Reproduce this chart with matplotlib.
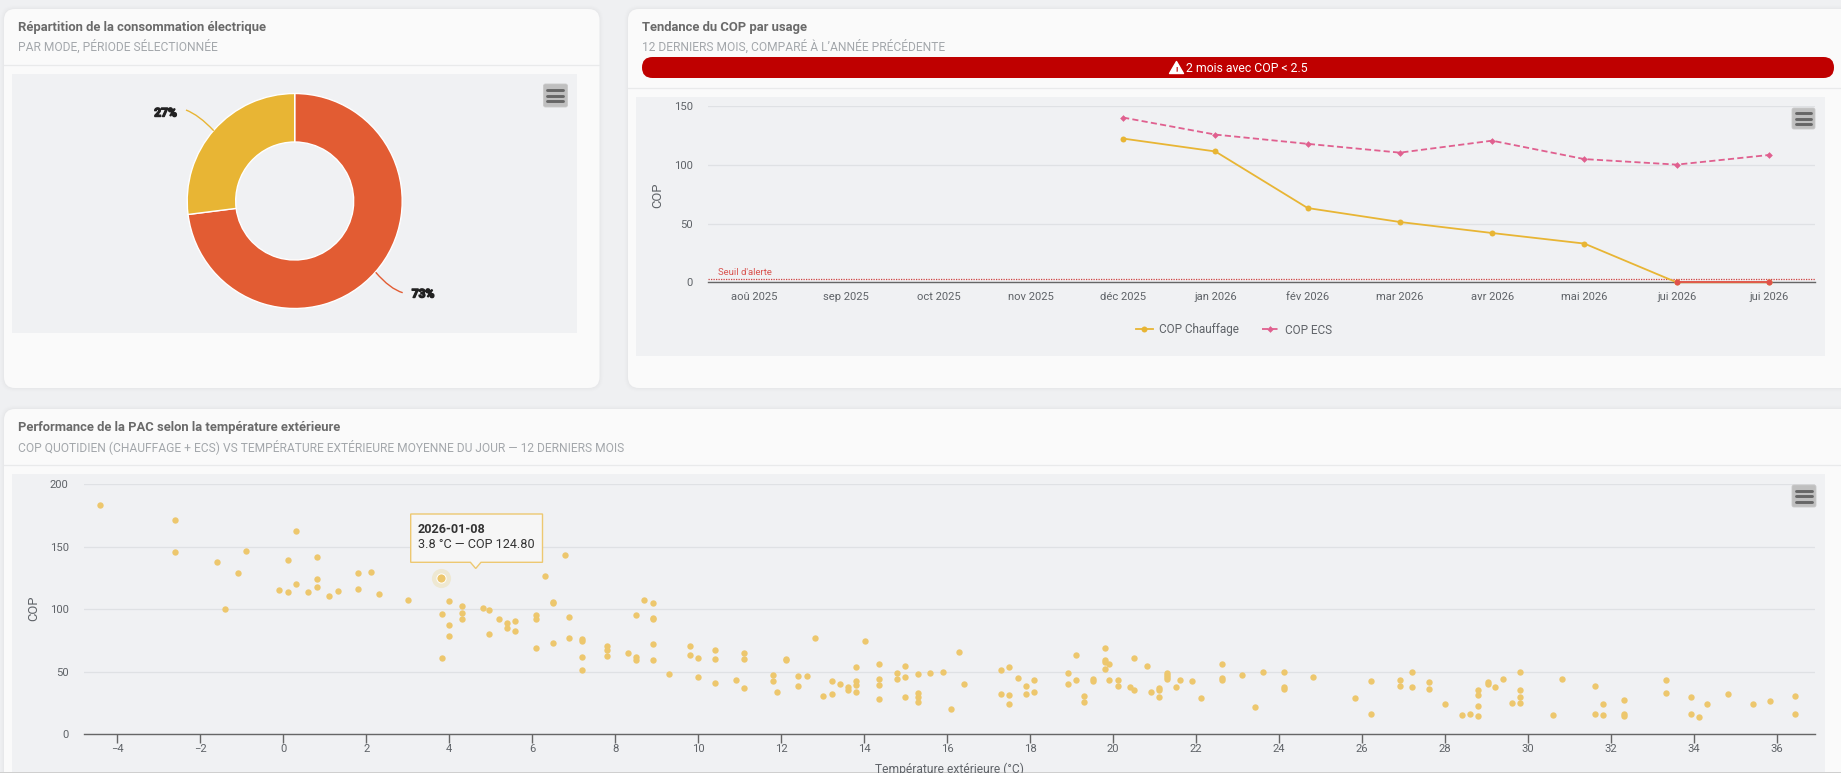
import numpy as np
import matplotlib
matplotlib.use("Agg")
import matplotlib.pyplot as plt
from matplotlib.patches import FancyBboxPatch, Rectangle, Polygon, PathPatch
from matplotlib.path import Path
import matplotlib.patheffects as pe

plt.rcParams['font.family'] = ['Roboto', 'DejaVu Sans']

# ---- data ----
mode_values = [73, 27]
mode_colors = ['#E25C33', '#E8B534']

months = ['aoû 2025', 'sep 2025', 'oct 2025', 'nov 2025', 'déc 2025', 'jan 2026',
          'fév 2026', 'mar 2026', 'avr 2026', 'mai 2026', 'jui 2026', 'jui 2026']
cop_chauffage = [None, None, None, None, 122.5, 111.5, 63.3, 51.4, 42.0, 33.0, 0.0, 0.0]
cop_ecs = [None, None, None, None, 140.4, 125.9, 118.0, 110.5, 120.7, 105.0, 100.3, 108.5]
seuil = 2.5

highlight_t = 3.8
highlight_cop = 124.8

temp_a = [-4.42,-2.61,-2.61,-1.6,-0.9,-1.09,-1.41,0.3,0.11,0.81,-0.1,0.11,0.3,0.59,0.81,0.81,1.1,1.32,1.8,1.8,2.11,2.3,3.0,
          4.0,3.82,4.0,4.0,3.82,4.3,4.3,4.3,4.81,4.97,5.2,5.39,5.39,5.58,5.58,4.97,6.09,6.09,6.09,6.31,6.5,6.5,6.79,6.88,6.5,
          6.88,7.2,7.2,7.2,7.2,7.8,7.8,7.8,8.31,8.5,8.5,8.5,8.69,8.91,8.91,8.91,8.91,8.91,9.29,9.8,9.8,9.99,9.99,10.4,10.4,10.4,
          10.91,11.1,11.1,11.1,11.8,11.8,11.9,12.11,12.11,12.4,12.4,12.62,12.81,13.0,13.22,13.22,13.41,13.61,13.61,13.8,13.8,13.8,13.8,
          14.02,14.35,14.35,14.35,14.35]
cop_a = [183.6,171.6,146,138,146.8,129,100.3,162.8,139.6,142,115.6,114,120.4,114,124.4,118,110.8,114.8,129,116.4,130,112.4,107.6,
         106.8,96.3,87.5,78.7,61,102.7,97,92.3,101,99.5,92.3,89,85,90.7,82.7,80.3,95.5,92.3,69,126.4,106,105,143.5,93.9,73,
         77,76.3,74.7,61.9,51.5,70.7,67.5,62.7,65,95.5,62,59.5,107.5,105,93,92.3,72.3,59.5,48.3,70.7,63.5,61,45.9,67.5,60.3,41,
         43.5,65,60.3,37,47.5,42.7,33.9,60.5,59.5,46.7,38.7,46.7,77,30.7,42.7,32.3,40.3,37.6,35.5,53.9,42.7,39.5,33.9,
         74.7,56.3,44.3,39.5,28.3]
temp_b = [14.79,14.79,14.98,14.98,14.98,15.29,15.29,15.29,15.29,15.58,15.9,16.09,16.28,16.4,17.29,17.49,17.29,17.49,17.49,17.7,17.9,17.9,
          18.09,18.09,18.91,18.91,19.1,19.1,19.29,19.29,19.51,19.51,19.8,19.8,19.8,19.9,19.8,19.9,20.11,20.11,20.4,20.5,20.5,20.81,20.91,
          21.1,21.1,21.1,21.29,21.29,21.29,21.29,21.51,21.61,21.9,22.11,22.61,22.61,22.61,23.1,23.41,23.61,24.11,24.11,24.11,24.81,25.82]
cop_b = [48.9,44.1,54.5,45.7,29.7,48.1,33.2,29.7,25.7,48.9,49.7,20,65.8,40.1,51.3,54,32.1,31.3,24.1,44.9,38.5,32.1,
         43.3,33.7,48.9,40.1,63.4,43.3,30.5,25.7,44.1,42.5,69,59.4,57.5,56.1,52.1,43.3,43.3,38.5,37.7,61,35.3,54.5,33.7,
         36.6,35,29.7,48.9,47,45.5,43.9,37.7,43.3,42.5,28.9,56.1,44.9,43.3,47.3,21.7,49.7,49.5,37.7,36.1,45.7,28.9]
temp_c = [26.2,26.2,26.9,26.9,27.21,27.21,27.6,27.6,28.0,28.41,28.6,28.8,28.8,28.8,28.8,29.02,29.02,29.21,29.4,29.62,29.81,29.81,29.81,29.81,
          30.6,30.82,31.61,31.61,31.81,31.81,32.31,32.31,32.31,33.32,33.32,33.92,33.92,34.12,34.31,34.81,35.41,35.82,36.42,36.42]
cop_c = [42.5,16,43.3,38.5,49.7,37.7,41.7,36.1,24.1,15.2,16,35.3,31.3,22.5,14.4,41.7,40.1,37.7,44.1,24.9,49.7,35.3,29.7,24.9,
         15.2,44.1,38.5,16,24.1,15.2,27.3,16,14.4,43.3,32.9,29.7,16,13.6,24.1,32.1,24.1,26.5,30.5,16]

# ---- layout ----
W, H = 1841, 773
PAGE = '#EFF0F2'
CARD = '#FAFAFA'
CHART = '#F0F1F3'
TITLE = '#6A6A6A'
SUB = '#A3A7AB'
TICK = '#5F6368'
px = 0.72  # CSS px -> pt at dpi 100

fig = plt.figure(figsize=(W / 100, H / 100), dpi=100, facecolor=PAGE)
def axes_px(x0, y0, x1, y1, **kw):
    return fig.add_axes([x0 / W, 1 - y1 / H, (x1 - x0) / W, (y1 - y0) / H], **kw)

bg = axes_px(0, 0, W, H, zorder=0)
bg.set_xlim(0, W); bg.set_ylim(H, 0); bg.axis('off')
top = axes_px(0, 0, W, H, zorder=6)
top.set_xlim(0, W); top.set_ylim(H, 0); top.axis('off'); top.patch.set_alpha(0)

def card(x0, y0, x1, y1, r=11):
    for g, a in ((4, .004), (3, .006), (2, .008), (1, .01)):
        bg.add_patch(FancyBboxPatch((x0 - g, y0 - g), x1 - x0 + 2 * g, y1 - y0 + 2 * g,
                                    boxstyle=f'round,pad=0,rounding_size={r + g}', fc='black', ec='none', alpha=a))
    bg.add_patch(FancyBboxPatch((x0, y0), x1 - x0, y1 - y0, boxstyle=f'round,pad=0,rounding_size={r}', fc=CARD, ec='none'))

def hamburger(x0, y0, x1, y1):
    top.add_patch(FancyBboxPatch((x0, y0), x1 - x0, y1 - y0, boxstyle='round,pad=0,rounding_size=2', fc='#BFBFBF', ec='#C9C9C9', lw=.6))
    m = (y0 + y1) / 2
    for d in (-5.5, 0, 5.5):
        top.plot([x0 + 4, x1 - 4], [m + d, m + d], color='#666666', lw=2.1, solid_capstyle='round')

card(4, 9, 599.5, 388)
card(628, 9, 1900, 388)
card(4, 409, 1900, 800)

for y, x0, x1 in ((65, 4, 599.5), (88, 628, W), (465, 4, W)):
    bg.plot([x0, x1], [y, y], color='#E9EAEB', lw=0.9)
bg.add_patch(Rectangle((12, 74), 565, 259, fc=CHART, ec='none'))
bg.add_patch(Rectangle((636, 97), 1189, 259, fc=CHART, ec='none'))
bg.add_patch(Rectangle((12, 474), 1813, 299, fc=CHART, ec='none'))
bg.add_patch(Rectangle((0, 771.8), W, 1.2, fc='#CFCFCF', ec='none'))

def heading(x, y0, title, sub):
    bg.text(x, y0, title, fontsize=13 * px, fontweight='bold', color=TITLE, va='center', ha='left')
    bg.text(x, y0 + 19.5, sub, fontsize=12.05 * px, color=SUB, va='center', ha='left')

heading(18, 27.5, 'Répartition de la consommation électrique', 'PAR MODE, PÉRIODE SÉLECTIONNÉE')
heading(642, 27.5, 'Tendance du COP par usage', '12 DERNIERS MOIS, COMPARÉ À L’ANNÉE PRÉCÉDENTE')
heading(18, 427, 'Performance de la PAC selon la température extérieure',
        'COP QUOTIDIEN (CHAUFFAGE + ECS) VS TEMPÉRATURE EXTÉRIEURE MOYENNE DU JOUR — 12 DERNIERS MOIS')

# alert banner
bg.add_patch(FancyBboxPatch((642, 57), 1192, 21, boxstyle='round,pad=0,rounding_size=10.5', fc='#BF0000', ec='none'))
bg.add_patch(Polygon([[1176.5, 61.5], [1183.5, 73.5], [1169.5, 73.5]], closed=True, fc='white', ec='white', lw=1, joinstyle='round'))
bg.text(1176.5, 69.2, '!', color='#BF0000', fontsize=8 * px, fontweight='bold', ha='center', va='center')
bg.text(1186, 68, '2 mois avec COP < 2.5', color='white', fontsize=12.2 * px, ha='left', va='center')

# ---- donut ----
cx, cy, R, r_in = 294.7, 201, 107.5, 59
pad = 1.05
dn = axes_px(cx - R * pad, cy - R * pad, cx + R * pad, cy + R * pad, zorder=2)
dn.pie(mode_values, colors=mode_colors, startangle=90, counterclock=False, radius=1,
       wedgeprops=dict(width=1 - r_in / R, edgecolor='white', linewidth=1))
dn.set_xlim(-pad, pad); dn.set_ylim(-pad, pad); dn.set_aspect('equal')

def leader(p0, c, p1, col):
    top.add_patch(PathPatch(Path([p0, c, p1], [Path.MOVETO, Path.CURVE3, Path.CURVE3]), fc='none', ec=col, lw=1))
leader((375.7, 272.3), (390, 289), (402.7, 292.7), mode_colors[0])
leader((213.7, 130.7), (199, 115), (186, 110), mode_colors[1])
for (x, y), v in zip([(423, 294), (165.5, 113)], mode_values):
    top.text(x, y, f'{v}%', fontsize=12 * px, fontweight='bold', color='#222222', ha='center', va='center',
             path_effects=[pe.withStroke(linewidth=1.0, foreground='#222222')])

# ---- COP trend ----
ax = axes_px(708, 106.3, 1815, 282.3, zorder=2)
ax.patch.set_alpha(0)
idx = np.arange(len(months))
ch = np.array([np.nan if v is None else v for v in cop_chauffage], float)
ec = np.array([np.nan if v is None else v for v in cop_ecs], float)
YEL, PINK, RED = '#E8B534', '#E0608F', '#E0524C'
ax.plot(idx, ch, color=YEL, lw=1.3, marker='o', ms=4.3, mew=0, label='COP Chauffage', clip_on=False, zorder=3)
ax.plot(idx, ec, color=PINK, lw=1.3, ls=(0, (3.4, 1.8)), marker='D', ms=3.4, mew=0, label='COP ECS', clip_on=False, zorder=3)
low = np.where(ch < seuil, ch, np.nan)
ax.plot(idx, low, color=RED, lw=1.3, marker='o', ms=4.3, mew=0, clip_on=False, zorder=4)
ax.axhline(seuil, color='#D0413F', lw=0.9, ls=(0, (1, 1)), zorder=2)
ax.text(717.7, 272.7, "Seuil d'alerte", transform=bg.transData, color='#D9534F', fontsize=9.5 * px, ha='left', va='center')
ax.set_xlim(-0.5, 11.5); ax.set_ylim(0, 150)
ax.set_yticks([0, 50, 100, 150])
ax.set_xticks(idx); ax.set_xticklabels(months)
ax.grid(axis='y', color='#DFE1E4', lw=0.9); ax.set_axisbelow(True)
for s in ('top', 'left', 'right'):
    ax.spines[s].set_visible(False)
ax.spines['bottom'].set_color('#666666'); ax.spines['bottom'].set_linewidth(1.0)
ax.tick_params(axis='both', length=0, labelsize=11.3 * px, labelcolor=TICK)
ax.tick_params(axis='x', pad=7)
ax.tick_params(axis='y', pad=15 * px)
ax.set_ylabel('COP', fontsize=13 * px, color=TICK, va='center')
ax.yaxis.set_label_coords(657.5, 195, transform=bg.transData)
leg = ax.legend(loc='center', bbox_to_anchor=(1234, 330), bbox_transform=bg.transData, ncols=2, frameon=False,
                fontsize=11.8 * px, labelcolor=TICK, handlelength=1.45, columnspacing=1.9, handletextpad=0.55, borderpad=0)

hamburger(543.5, 84, 567.5, 107)
hamburger(1792, 108, 1815, 129)
hamburger(1792, 485, 1816, 507)

# ---- scatter ----
sc = axes_px(84, 484, 1815, 734.3, zorder=2)
sc.patch.set_alpha(0)
temps = np.array(temp_a + temp_b + temp_c)
cops = np.array(cop_a + cop_b + cop_c)
DOT = '#EDC76D'
sc.scatter(temps, cops, s=21, color=DOT, linewidths=0, zorder=3, clip_on=False)
sc.scatter([highlight_t], [highlight_cop], s=190, color='#EEE8D2', linewidths=0, zorder=3)
sc.scatter([highlight_t], [highlight_cop], s=44, color=DOT, edgecolors='white', linewidths=0.7, zorder=4)
sc.set_xlim(-4.80, 36.91); sc.set_ylim(0, 200)
sc.set_xticks(np.arange(-4, 37, 2))
sc.set_yticks([0, 50, 100, 150, 200])
sc.grid(axis='y', color='#DFE1E4', lw=0.9); sc.set_axisbelow(True)
for s in ('top', 'left', 'right'):
    sc.spines[s].set_visible(False)
sc.spines['bottom'].set_color('#666666'); sc.spines['bottom'].set_linewidth(1.0)
sc.tick_params(axis='y', length=0, labelsize=11.3 * px, labelcolor=TICK, pad=11)
sc.tick_params(axis='x', length=9 * px, width=1, color='#666666', labelsize=11.3 * px, labelcolor=TICK, pad=0.5)
sc.set_ylabel('COP', fontsize=13 * px, color=TICK, va='center')
sc.yaxis.set_label_coords(34, 608, transform=bg.transData)
sc.set_xlabel('Température extérieure (°C)', fontsize=12 * px, color=TICK, va='center')
sc.xaxis.set_label_coords(949.5, 769, transform=bg.transData)

# tooltip
top.add_patch(Polygon([[410.7, 514], [542.5, 514], [542.5, 562.3], [481, 562.3], [475.7, 568.5], [470.4, 562.3], [410.7, 562.3]],
                      closed=True, fc='#F7F7F7', ec=DOT, lw=1, alpha=0.97))
top.text(418, 529.3, '2026-01-08', fontsize=12.6 * px, fontweight='bold', color='#333333', va='center')
top.text(418, 544.3, '3.8 °C — COP 124.80', fontsize=12.6 * px, color='#333333', va='center')

fig.savefig('out.png', dpi=100, facecolor=PAGE)
